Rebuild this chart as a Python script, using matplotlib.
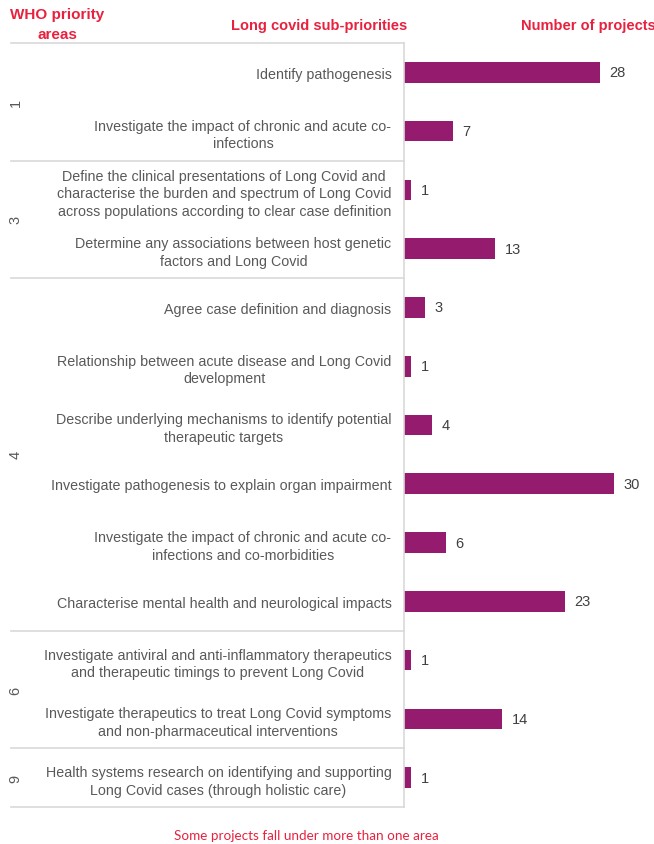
import matplotlib.pyplot as plt

plt.rcParams["font.family"] = ["Liberation Sans", "DejaVu Sans"]

# sub-priorities, top to bottom
labels = [
    "Identify pathogenesis",
    "Investigate the impact of chronic and acute co-\ninfections",
    "Define the clinical presentations of Long Covid and\ncharacterise the burden and spectrum of Long Covid\nacross populations according to clear case definition",
    "Determine any associations between host genetic\nfactors and Long Covid",
    "Agree case definition and diagnosis",
    "Relationship between acute disease and Long Covid\ndevelopment",
    "Describe underlying mechanisms to identify potential\ntherapeutic targets",
    "Investigate pathogenesis to explain organ impairment",
    "Investigate the impact of chronic and acute co-\ninfections and co-morbidities",
    "Characterise mental health and neurological impacts",
    "Investigate antiviral and anti-inflammatory therapeutics\nand therapeutic timings to prevent Long Covid",
    "Investigate therapeutics to treat Long Covid symptoms\nand non-pharmaceutical interventions",
    "Health systems research on identifying and supporting\nLong Covid cases (through holistic care)",
]
projects = [28, 7, 1, 13, 3, 1, 4, 30, 6, 23, 1, 14, 1]

# WHO priority areas and how many sub-priorities each one has
areas = ["1", "3", "4", "6", "9"]
area_sizes = [2, 2, 6, 2, 1]

bar_color = "#951B6F"
red = "#E8213F"
grid_grey = "#D9D9D9"
text_grey = "#595959"

fig = plt.figure(figsize=(6.54, 8.45), dpi=100)
W, H = 654, 845
ax = fig.add_axes([404 / W, 1 - 808 / H, 250 / W, 764 / H])

ypos = list(range(len(projects)))
ax.barh(ypos, projects, height=0.35, color=bar_color)
for y, v in zip(ypos, projects):
    ax.text(v + 1.35, y, str(v), va="center", ha="left", fontsize=10.5, color="#404040")

ax.set_xlim(0, 250 / 7)
ax.set_ylim(len(projects) - 0.5, -0.5)
ax.set_xticks([])
ax.set_yticks(ypos)
ax.set_yticklabels(labels, fontsize=10.3, color=text_grey, linespacing=1.33)
for lbl in ax.get_yticklabels():
    lbl.set_multialignment("center")
ax.tick_params(axis="y", length=0, pad=9)

for s in ["top", "right", "bottom"]:
    ax.spines[s].set_visible(False)
ax.spines["left"].set_color(grid_grey)
ax.spines["left"].set_linewidth(1.2)

# group separators running under the label column
xleft = (11 - 404) / 250
trans = ax.get_yaxis_transform()
start = -0.5
bounds = [start]
for n in area_sizes:
    start += n
    bounds.append(start)
for b in bounds:
    ax.plot([xleft, 0], [b, b], color=grid_grey, lw=1.2, transform=trans, clip_on=False)

for name, lo, hi in zip(areas, bounds[:-1], bounds[1:]):
    ax.text(xleft + 0.018, (lo + hi) / 2, name, rotation=90, ha="center", va="center",
            fontsize=10.5, color=text_grey, transform=trans)

# column headers
fig.text(57 / W, 1 - 25 / H, "WHO priority\nareas", ha="center", va="center", fontsize=11,
         fontweight="bold", color=red, linespacing=1.5)
fig.text(319 / W, 1 - 26 / H, "Long covid sub-priorities", ha="center", va="center",
         fontsize=10.5, fontweight="bold", color=red)
fig.text(588 / W, 1 - 26 / H, "Number of projects", ha="center", va="center",
         fontsize=10.5, fontweight="bold", color=red)

fig.text(306 / W, 1 - 836 / H, "Some projects fall under more than one area", ha="center",
         va="center", fontsize=9.7, color=red, family=["Lato", "DejaVu Sans"])

fig.savefig("out.png", dpi=100)
